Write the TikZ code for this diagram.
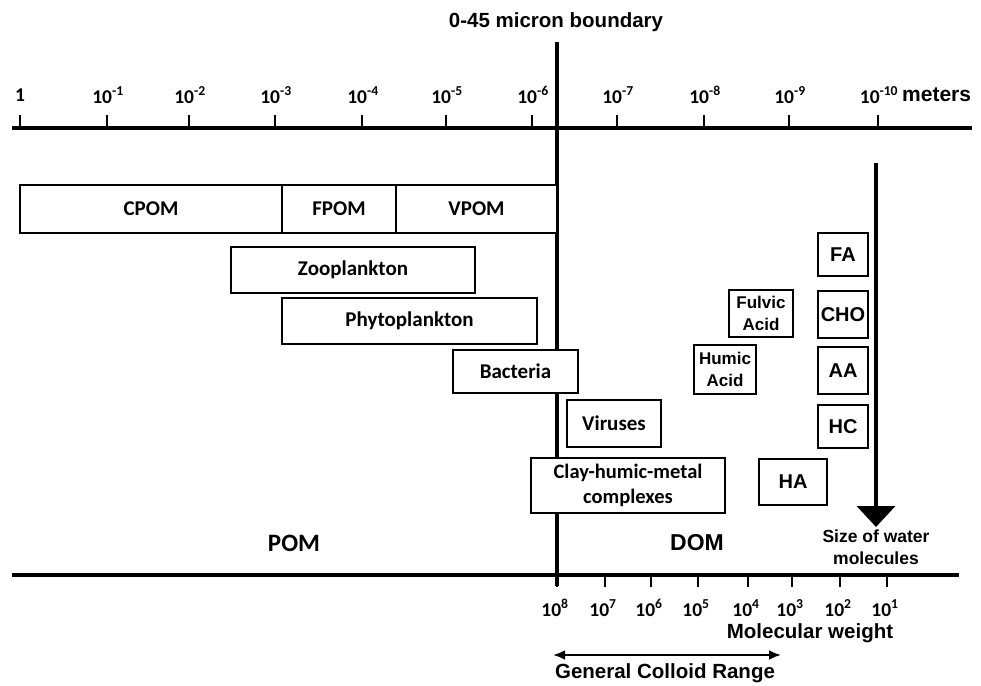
\documentclass[tikz,border=0pt]{standalone}
\usepackage{fontspec}
\setmainfont{Carlito}
\newfontfamily\arialf{Liberation Sans}
\usetikzlibrary{arrows.meta}
\begin{document}
\begin{tikzpicture}[x=1pt,y=-1pt,
  box/.style={draw, fill=white, line width=1.3pt, inner sep=0pt, align=center},
  cal/.style={font=\bfseries\fontsize{21}{22}\selectfont},
  ari/.style={font=\arialf\bfseries\fontsize{20}{22}\selectfont},
  aris/.style={font=\arialf\bfseries\fontsize{17}{22}\selectfont},
  axisline/.style={line width=3.6pt},
  tickline/.style={line width=2pt},
  lab/.style={font=\bfseries\fontsize{19.5}{22}\selectfont, inner sep=0pt},
]
\fill[white] (0,0) rectangle (981,685);
\useasboundingbox (0,0) rectangle (981,685);

% axes
\coordinate (ta1) at (12,128);
\coordinate (ta2) at (972,128);
\coordinate (ba1) at (12,575);
\coordinate (ba2) at (959,575);
\draw[axisline] (ta1) -- (ta2);
\draw[axisline] (ba1) -- (ba2);

% top ticks and labels
\foreach \x/\e [count=\i] in {107/-1,189/-2,275/-3,362/-4,446/-5,532/-6,617/-7,704/-8,789/-9,878/-10}{
  \draw[tickline] (\x,115) -- (\x,128);
  \node[lab] (tl\i) at (\x+1,95) {10\textsuperscript{\e}};
}
\draw[tickline] (20,115) -- (20,128);
\node[lab] (tl0) at (20,95) {1};
\node[ari, font=\arialf\bfseries\fontsize{21}{22}\selectfont, anchor=west, inner sep=0pt] (meters) at (902,95) {meters};

% bottom ticks and labels
\foreach \x/\e [count=\i] in {557/8,605/7,651/6,698/5,748/4,792/3,840/2,887/1}{
  \draw[tickline] (\x,575) -- (\x,587);
  \node[lab] (bl\i) at (\x-2,608) {10\textsuperscript{\e}};
}

% boundary
\coordinate (btop) at (557,42);
\coordinate (bbot) at (557,586);
\draw[line width=3.8pt] (btop) -- (bbot);
\node[ari, font=\arialf\bfseries\fontsize{20.5}{22}\selectfont] (bnd) at (556,22) {0-45 micron boundary};

% POM boxes
\node[box, cal, minimum width=262pt, minimum height=48pt] (cpom) at (151,209) {CPOM};
\node[box, cal, minimum width=114pt, minimum height=48pt] (fpom) at (339,209) {FPOM};
\node[box, cal, minimum width=161pt, minimum height=48pt] (vpom) at (476.5,209) {VPOM};
\node[box, cal, minimum width=244pt, minimum height=46pt] (zoo) at (353,270) {Zooplankton};
\node[box, cal, minimum width=255pt, minimum height=46pt] (phy) at (409.5,321) {Phytoplankton};
\node[box, cal, minimum width=125pt, minimum height=43pt] (bac) at (515.5,371.5) {Bacteria};
\node[box, cal, minimum width=94pt, minimum height=47pt] (vir) at (614,423.5) {Viruses};
\node[box, cal, minimum width=194pt, minimum height=55pt, font=\bfseries\fontsize{20.5}{25}\selectfont] (clay) at (628,485.5) {Clay-humic-metal\\complexes};

% DOM boxes
\node[box, ari, minimum width=68pt, minimum height=46pt] (ha) at (793,482) {HA};
\node[box, ari, minimum width=50pt, minimum height=43pt] (fa) at (843,254.5) {FA};
\node[box, ari, minimum width=50pt, minimum height=47pt] (cho) at (843,314.5) {CHO};
\node[box, ari, minimum width=50pt, minimum height=47pt] (aa) at (843,370.5) {AA};
\node[box, ari, minimum width=50pt, minimum height=43pt] (hc) at (843,426.5) {HC};
\node[box, aris, minimum width=64pt, minimum height=47pt] (fulv) at (761,313.5) {Fulvic\\Acid};
\node[box, aris, minimum width=62pt, minimum height=49pt] (hum) at (725,369.5) {Humic\\Acid};

% water arrow
\coordinate (wtop) at (876,163);
\coordinate (wbot) at (876,527);
\draw[line width=3.8pt, -{Triangle[width=38pt,length=21pt]}] (wtop) -- (wbot);
\node[ari, font=\arialf\bfseries\fontsize{17.5}{22}\selectfont, align=center] (water) at (876,547) {Size of water\\molecules};

% region labels
\node[font=\bfseries\fontsize{25}{26}\selectfont] (pom) at (294,543) {POM};
\node[ari, font=\arialf\bfseries\fontsize{23}{26}\selectfont] (dom) at (697,543) {DOM};

% molecular weight
\node[ari, font=\arialf\bfseries\fontsize{20.5}{22}\selectfont] (mw) at (810,633) {Molecular weight};
\coordinate (gc1) at (553,655);
\coordinate (gc2) at (781,655);
\draw[line width=2.4pt, {Latex[length=12pt,width=10pt]}-{Latex[length=12pt,width=10pt]}] (gc1) -- (gc2);
\node[ari, font=\arialf\bfseries\fontsize{20.5}{22}\selectfont] (gcr) at (665,673) {General Colloid Range};
\end{tikzpicture}
\end{document}
